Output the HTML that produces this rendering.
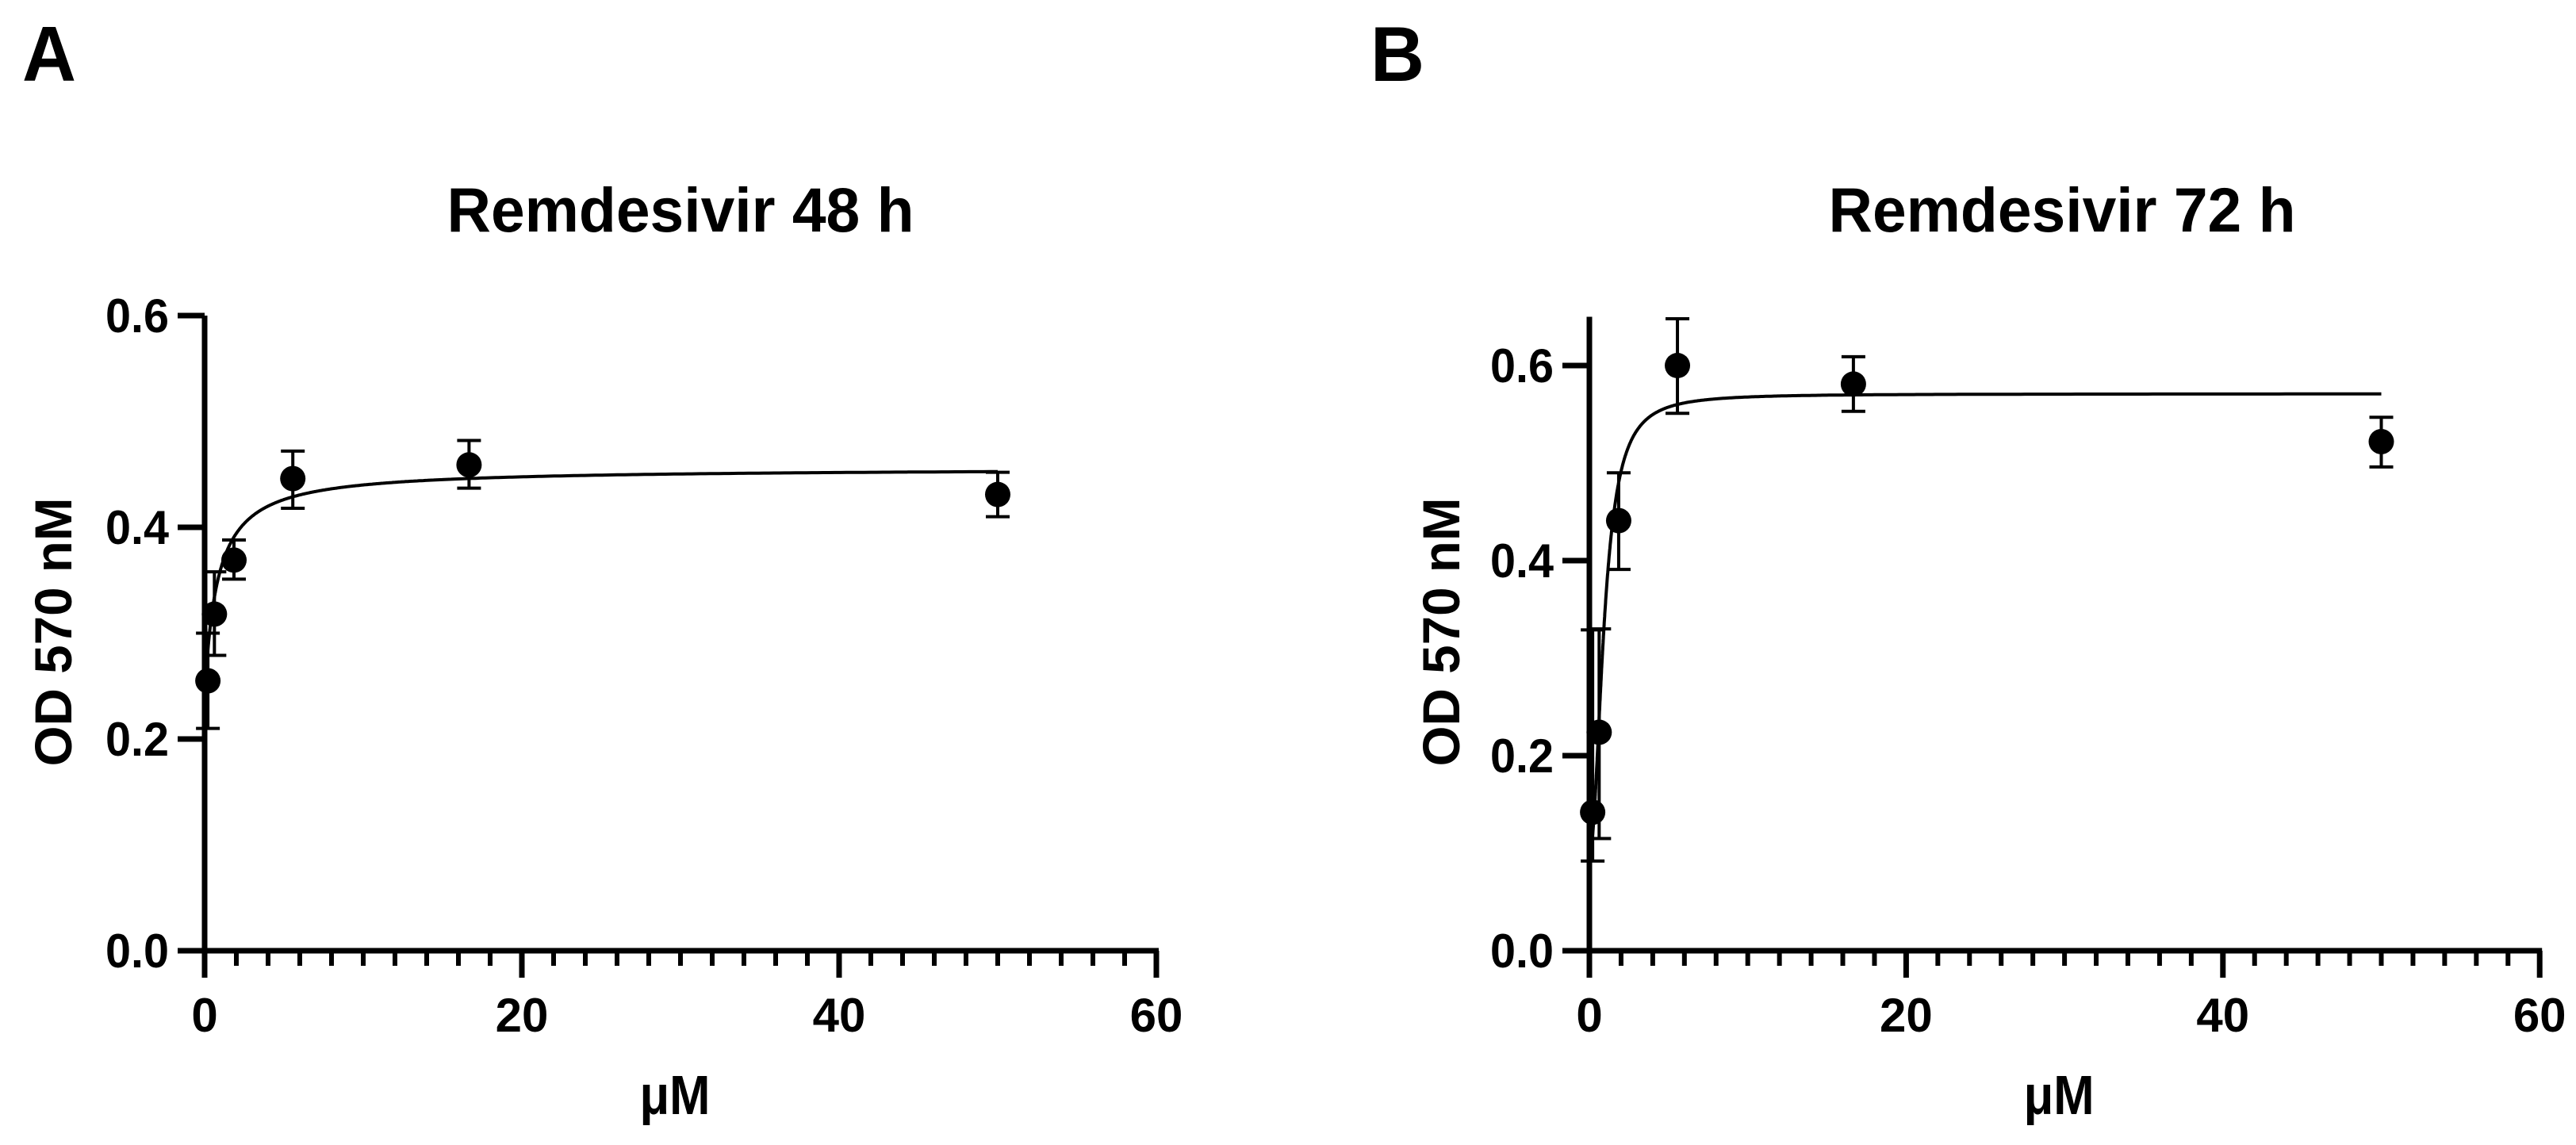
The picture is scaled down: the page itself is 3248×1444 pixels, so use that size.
<!DOCTYPE html>
<html><head><meta charset="utf-8"><style>
html,body{margin:0;padding:0;background:#fff;}
svg{display:block;font-family:"Liberation Sans",Arial,sans-serif;font-weight:bold;}
</style></head><body>
<svg id="fig" width="3248" height="1444" viewBox="0 0 3248 1444" xmlns="http://www.w3.org/2000/svg">
<rect width="3248" height="1444" fill="#fff"/>
<text x="28" y="102" font-size="98" textLength="68" lengthAdjust="spacingAndGlyphs">A</text>
<text x="1728" y="102" font-size="98" textLength="68" lengthAdjust="spacingAndGlyphs">B</text>
</svg>
<script>
// Panel A data (Remdesivir 48 h)
const dosesA = [0.206, 0.617, 1.85, 5.56, 16.67, 50];
const meanA = [0.255, 0.318, 0.369, 0.446, 0.459, 0.431];
const upperA = [0.300, 0.358, 0.388, 0.472, 0.482, 0.452];
const lowerA = [0.210, 0.279, 0.351, 0.418, 0.437, 0.410];
const fitA = [0.24, 0.456, 0.8, 1.0]; // bottom, top, EC50, hill
// Panel B data (Remdesivir 72 h)
const dosesB = [0.206, 0.617, 1.85, 5.56, 16.67, 50];
const meanB = [0.142, 0.224, 0.441, 0.600, 0.581, 0.522];
const upperB = [0.329, 0.330, 0.490, 0.648, 0.609, 0.547];
const lowerB = [0.092, 0.115, 0.391, 0.551, 0.553, 0.496];
const fitB = [0.10, 0.571, 0.936, 2.1];
const xTicks = [0, 20, 40, 60];
const yTicks = [0.0, 0.2, 0.4, 0.6];

const NS = "http://www.w3.org/2000/svg";
const svg = document.getElementById('fig');
function mk(tag, attrs, parent) {
  const e = document.createElementNS(NS, tag);
  for (const k in attrs) e.setAttribute(k, attrs[k]);
  (parent || svg).appendChild(e);
  return e;
}

function panel(opt) {
  const g = mk('g', {});
  
  
  const X = v => opt.x0 + v * opt.xs;
  const Y = v => opt.y0 - v * opt.ys;
  // title
  const t = mk('text', {x: opt.titleX, y: 292, 'font-size': 79, 'text-anchor': 'middle', textLength: 589, lengthAdjust: 'spacingAndGlyphs'}, g);
  t.textContent = opt.title;
  
  
  // y axis
  const ya = mk('line', {x1: X(0), y1: Y(opt.yTop), x2: X(0), y2: opt.y0 + 34, stroke: '#000', 'stroke-width': 7}, g);
  
  
  yTicks.forEach(v => {
    const tk = mk('line', {x1: X(0) - 34, y1: Y(v), x2: X(0), y2: Y(v), stroke: '#000', 'stroke-width': 7}, g);
    
    
    const lb = mk('text', {x: X(0) - 45, y: Y(v) + 21, 'font-size': 60, 'text-anchor': 'end', textLength: 80, lengthAdjust: 'spacingAndGlyphs'}, g);
    lb.textContent = v.toFixed(1);
    
    
  });
  // x axis
  const xa = mk('line', {x1: X(0) - 34, y1: opt.y0, x2: X(60) + 3, y2: opt.y0, stroke: '#000', 'stroke-width': 7}, g);
  
  
  for (let v = 2; v < 60; v += 2) {
    if (v % 20 === 0) continue;
    const mt = mk('line', {x1: X(v), y1: opt.y0, x2: X(v), y2: opt.y0 + 19, stroke: '#000', 'stroke-width': 6}, g);
    
    
  }
  xTicks.forEach(v => {
    const tk = mk('line', {x1: X(v), y1: opt.y0, x2: X(v), y2: opt.y0 + 34, stroke: '#000', 'stroke-width': 7}, g);
    
    
    const lb = mk('text', {x: X(v), y: 1301, 'font-size': 60, 'text-anchor': 'middle'}, g);
    lb.textContent = String(v);
    
    
  });
  // axis titles
  const yl = mk('text', {x: 0, y: 0, 'font-size': 66, 'text-anchor': 'middle', textLength: 339, lengthAdjust: 'spacingAndGlyphs', transform: `translate(${opt.ylabX},797) rotate(-90)`}, g);
  yl.textContent = 'OD 570 nM';
  
  
  const xl = mk('text', {x: X(30) - 7, y: 1405, 'font-size': 70, 'text-anchor': 'middle', textLength: 89, lengthAdjust: 'spacingAndGlyphs'}, g);
  xl.textContent = 'μM';
  
  
  // fit curve
  const [b, tp, ec, h] = opt.fit;
  let d = '';
  for (let i = 0; i <= 600; i++) {
    const xv = 0.2 * Math.pow(50 / 0.2, i / 600);
    const yv = b + (tp - b) * Math.pow(xv, h) / (Math.pow(ec, h) + Math.pow(xv, h));
    d += (i ? 'L' : 'M') + X(xv).toFixed(1) + ',' + Y(yv).toFixed(1);
  }
  const cv = mk('path', {d: d, fill: 'none', stroke: '#000', 'stroke-width': 4}, g);
  
  
  // points & error bars
  opt.doses.forEach((xv, i) => {
    const eb = mk('path', {d: `M${X(xv)},${Y(opt.upper[i])}V${Y(opt.lower[i])}M${X(xv)-15},${Y(opt.upper[i])}h30M${X(xv)-15},${Y(opt.lower[i])}h30`, stroke: '#000', 'stroke-width': 4, fill: 'none'}, g);
    
    
    const c = mk('circle', {cx: X(xv), cy: Y(opt.mean[i]), r: 16, fill: '#000'}, g);
    
    
  });
}

panel({name: 'panel-a', title: 'Remdesivir 48 h', titleX: 858, x0: 258, xs: 20.0, y0: 1199, ys: 1335, yTop: 0.6,
  doses: dosesA, mean: meanA, upper: upperA, lower: lowerA, fit: fitA, ylabX: 90});
panel({name: 'panel-b', title: 'Remdesivir 72 h', titleX: 2600, x0: 2004, xs: 19.97, y0: 1199, ys: 1230, yTop: 0.65,
  doses: dosesB, mean: meanB, upper: upperB, lower: lowerB, fit: fitB, ylabX: 1840});
</script>
</body></html>
